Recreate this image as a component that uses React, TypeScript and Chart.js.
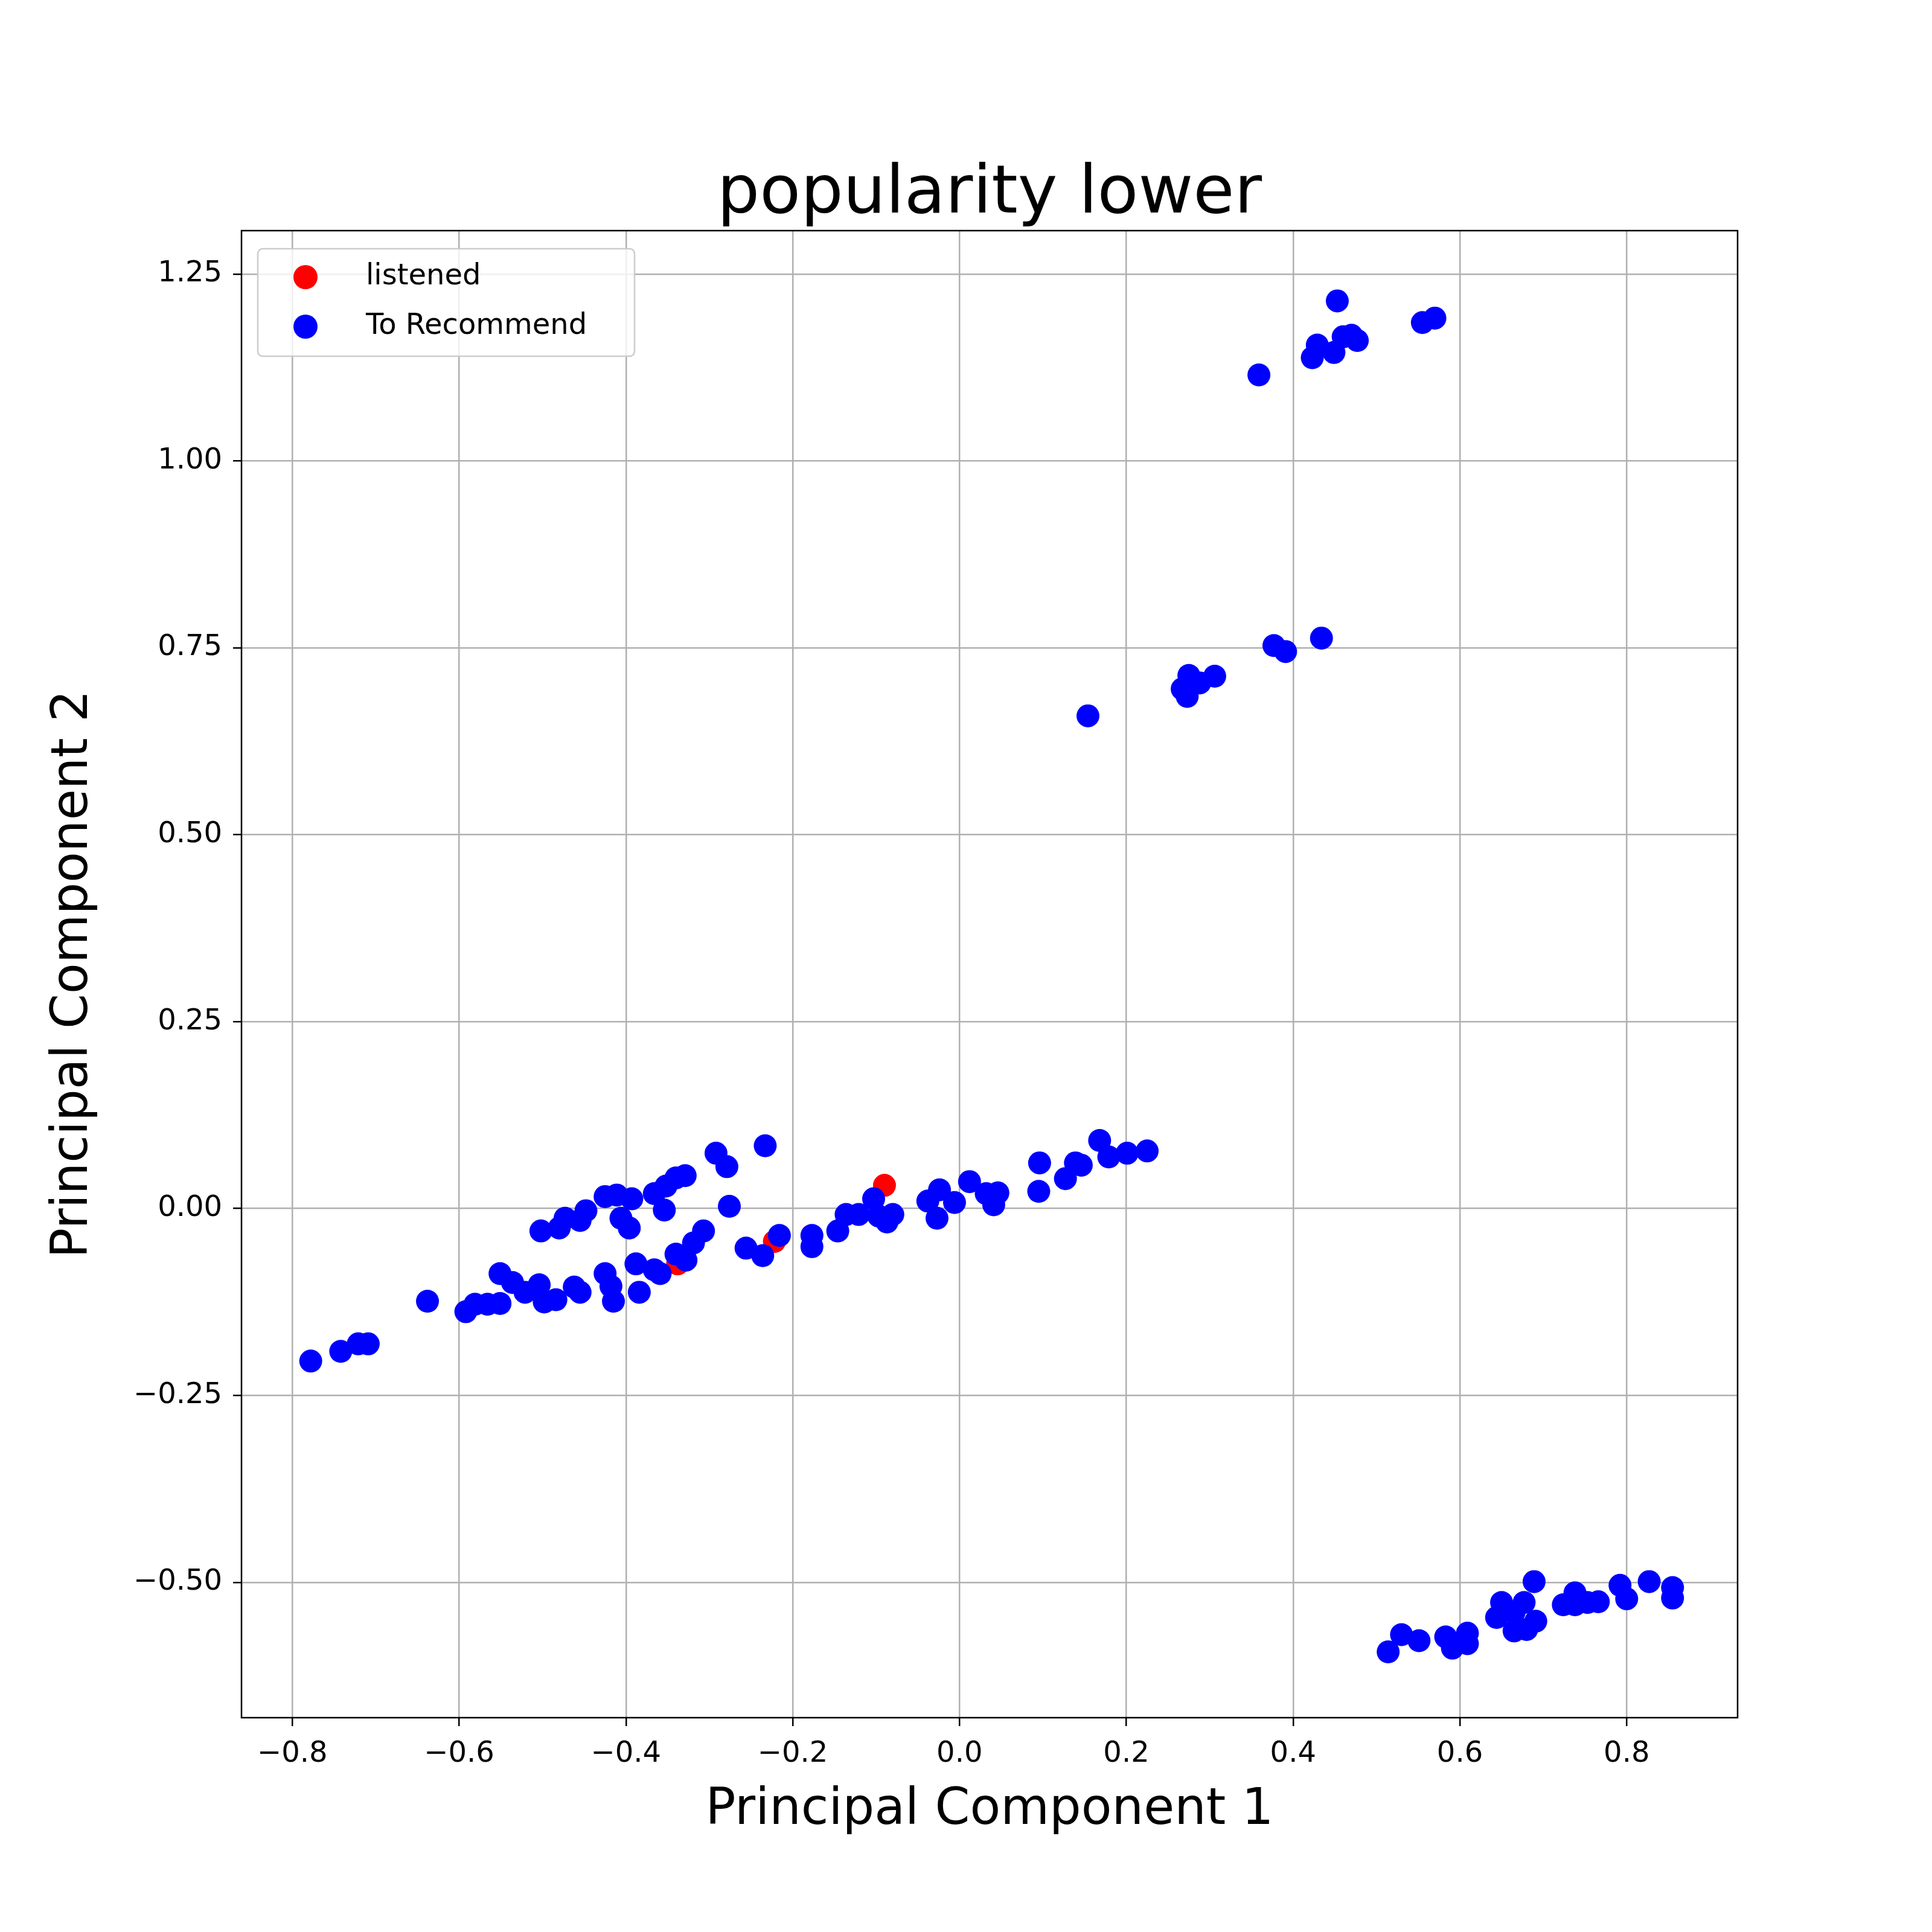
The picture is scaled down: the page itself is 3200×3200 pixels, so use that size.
import React, { useEffect, useRef } from 'react';
import { Chart } from 'chart.js/auto';

const listenedX = [-0.09, -0.222, -0.338];
const listenedY = [0.031, -0.044, -0.074];

const recommendX = [
  0.453, 0.555, 0.57, 0.429, 0.449, 0.423, 0.46, 0.47, 0.477, 0.359,
  0.434, 0.377, 0.391, 0.275, 0.306, 0.288, 0.267, 0.273, 0.154,
  -0.778, -0.742, -0.721, -0.709, -0.638, -0.592, -0.581, -0.566, -0.551, -0.551,
  -0.536, -0.521, -0.504, -0.498, -0.484, -0.462, -0.455, -0.502, -0.48, -0.473,
  -0.455, -0.448, -0.425, -0.411, -0.393, -0.406, -0.396, -0.425, -0.418, -0.415,
  -0.388, -0.384, -0.366, -0.359, -0.366, -0.352, -0.34, -0.329, -0.354, -0.34,
  -0.328, -0.319, -0.307, -0.292, -0.279, -0.276, -0.256, -0.236, -0.233, -0.216,
  -0.177, -0.177, -0.146, -0.136, -0.121, -0.103, -0.097, -0.087, -0.08, -0.038,
  -0.027, -0.024, -0.006, 0.012, 0.032, 0.041, 0.046, 0.095, 0.096, 0.127,
  0.139, 0.146, 0.168, 0.179, 0.201, 0.225,
  0.514, 0.53, 0.551, 0.583, 0.591, 0.609, 0.609, 0.644, 0.65, 0.665,
  0.665, 0.677, 0.68, 0.689, 0.691, 0.724, 0.738, 0.738, 0.753, 0.766,
  0.792, 0.8, 0.827, 0.855, 0.855,
];
const recommendY = [
  1.214, 1.185, 1.191, 1.155, 1.145, 1.138, 1.166, 1.168, 1.161, 1.115,
  0.763, 0.753, 0.745, 0.713, 0.712, 0.703, 0.695, 0.685, 0.659,
  -0.204, -0.191, -0.181, -0.181, -0.124, -0.138, -0.128, -0.128, -0.127, -0.087,
  -0.099, -0.112, -0.102, -0.125, -0.122, -0.105, -0.112, -0.03, -0.026, -0.013,
  -0.016, -0.003, 0.016, 0.018, 0.013, -0.013, -0.026, -0.087, -0.104, -0.124,
  -0.074, -0.112, -0.082, -0.087, 0.02, 0.03, 0.041, 0.044, -0.002, -0.061,
  -0.069, -0.046, -0.03, 0.074, 0.056, 0.003, -0.053, -0.063, 0.084, -0.036,
  -0.036, -0.051, -0.03, -0.008, -0.008, 0.013, -0.01, -0.018, -0.008, 0.01,
  -0.013, 0.025, 0.008, 0.036, 0.02, 0.005, 0.021, 0.023, 0.061, 0.04,
  0.061, 0.058, 0.091, 0.069, 0.074, 0.077,
  -0.593, -0.57, -0.578, -0.573, -0.588, -0.568, -0.582, -0.547, -0.527, -0.54,
  -0.565, -0.527, -0.563, -0.499, -0.552, -0.53, -0.514, -0.53, -0.527, -0.526,
  -0.504, -0.522, -0.499, -0.507, -0.521,
];

const xTicks = [-0.8, -0.6, -0.4, -0.2, 0, 0.2, 0.4, 0.6, 0.8];
const yTicks = [-0.5, -0.25, 0, 0.25, 0.5, 0.75, 1.0, 1.25];

const font = 'DejaVu Sans';
const minus = (s: string) => s.replace('-', '\u2212');

const App: React.FC = () => {
  const ref = useRef<HTMLCanvasElement>(null);

  useEffect(() => {
    const ctx = ref.current?.getContext('2d');
    if (!ctx) return;

    // frame, title, axis titles and legend drawn like matplotlib
    const frame = {
      id: 'frame',
      afterDraw(c: any) {
        const { ctx: g, chartArea: a } = c;
        const cx = (a.left + a.right) / 2;
        g.save();
        g.strokeStyle = '#000';
        g.lineWidth = 2.5;
        g.strokeRect(a.left, a.top, a.right - a.left, a.bottom - a.top);
        g.fillStyle = '#000';
        g.textAlign = 'center';
        g.textBaseline = 'alphabetic';
        g.font = `111px "${font}"`;
        g.fillText('popularity lower', cx, 352);
        g.textBaseline = 'middle';
        g.font = `83px "${font}"`;
        g.fillText('Principal Component 1', cx, 2999);
        g.save();
        g.translate(122, (a.top + a.bottom) / 2);
        g.rotate(-Math.PI / 2);
        g.fillText('Principal Component 2', 0, 0);
        g.restore();

        // legend
        g.beginPath();
        g.fillStyle = 'rgba(255,255,255,0.8)';
        g.strokeStyle = '#cccccc';
        g.lineWidth = 2.5;
        (g as any).roundRect(427, 412, 624, 178, 8);
        g.fill();
        g.stroke();
        const items = c.data.datasets;
        [0, 1].forEach((i) => {
          const y = 459 + i * 82;
          g.beginPath();
          g.fillStyle = items[i].backgroundColor;
          g.arc(506, y, 20, 0, Math.PI * 2);
          g.fill();
          g.fillStyle = '#000';
          g.textAlign = 'left';
          g.font = `48px "${font}"`;
          g.fillText(items[i].label, 606, y);
        });
        g.restore();
      },
    };

    const chart = new Chart(ctx, {
      type: 'scatter',
      data: {
        datasets: [
          {
            label: 'listened',
            data: listenedX.map((x, i) => ({ x, y: listenedY[i] })),
            backgroundColor: '#ff0000',
            borderWidth: 0,
            pointRadius: 19,
            order: 2,
          },
          {
            label: 'To Recommend',
            data: recommendX.map((x, i) => ({ x, y: recommendY[i] })),
            backgroundColor: '#0000ff',
            borderWidth: 0,
            pointRadius: 19,
            order: 1,
          },
        ],
      },
      plugins: [frame],
      options: {
        animation: false,
        responsive: false,
        devicePixelRatio: 1,
        layout: { padding: { top: 382, right: 322, left: 0, bottom: 0 } },
        plugins: {
          title: { display: false },
          tooltip: { enabled: false },
          legend: { display: false },
        },
        scales: {
          x: {
            type: 'linear',
            min: -0.861,
            max: 0.933,
            afterBuildTicks: (s: any) => {
              s.ticks = xTicks.map((v) => ({ value: v }));
            },
            afterFit: (s: any) => {
              s.height = 355;
            },
            grid: { color: '#b0b0b0', lineWidth: 2.5, tickLength: 14, tickColor: '#000' },
            border: { display: false },
            ticks: {
              color: '#000',
              padding: 18,
              maxRotation: 0,
              font: { family: font, size: 48 },
              callback: (v: any) => minus(Number(v).toFixed(1)),
            },
          },
          y: {
            type: 'linear',
            min: -0.681,
            max: 1.308,
            afterBuildTicks: (s: any) => {
              s.ticks = yTicks.map((v) => ({ value: v }));
            },
            afterFit: (s: any) => {
              s.width = 400;
            },
            grid: { color: '#b0b0b0', lineWidth: 2.5, tickLength: 14, tickColor: '#000' },
            border: { display: false },
            ticks: {
              color: '#000',
              padding: 18,
              font: { family: font, size: 48 },
              callback: (v: any) => minus(Number(v).toFixed(2)),
            },
          },
        },
      },
    });
    return () => {
      chart.destroy();
    };
  }, []);

  return (
    <div style={{ position: 'absolute', left: 0, top: 0, width: 3200, height: 3200, background: '#fff' }}>
      <canvas ref={ref} width={3200} height={3200}></canvas>
    </div>
  );
};

export default App;
